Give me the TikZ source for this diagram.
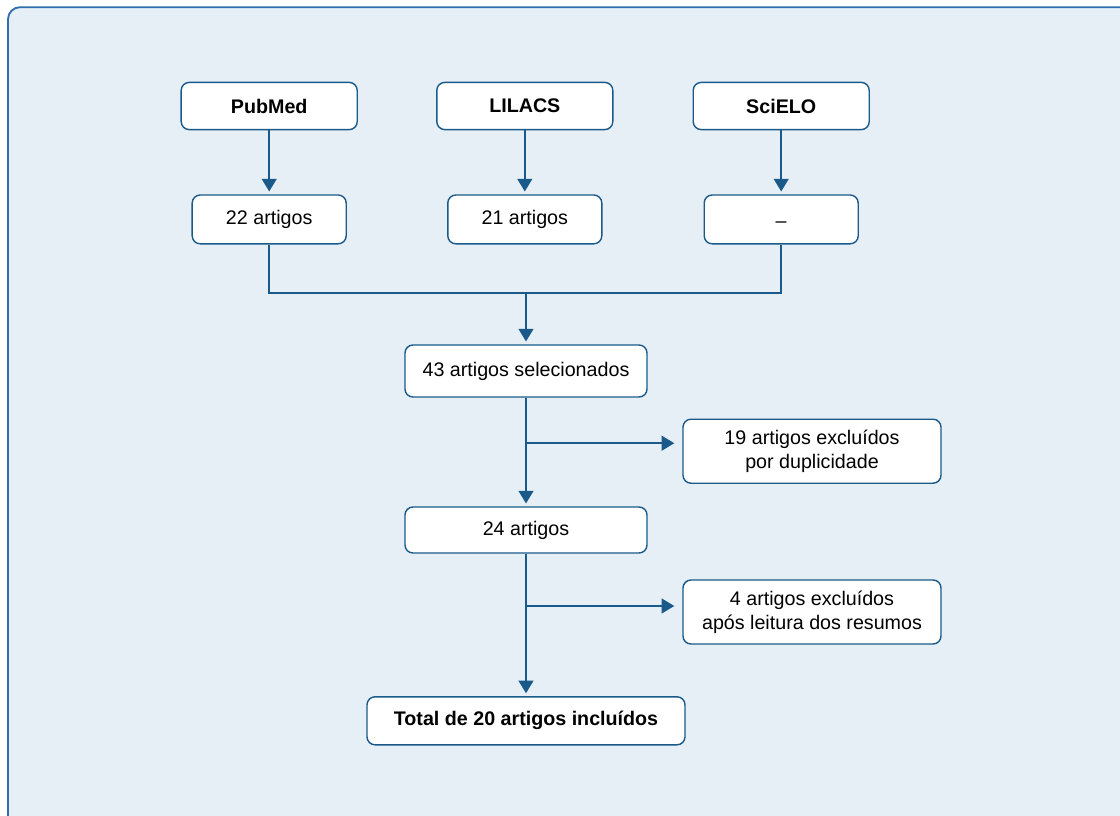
\documentclass[tikz,border=0pt]{standalone}
\usepackage{fontspec}
\setmainfont{Liberation Sans}
\usepackage{xcolor}
\usepackage{tikz}
\usetikzlibrary{shapes, arrows.meta, positioning}

\definecolor{bgblue}{HTML}{E6EEF6}
\definecolor{framblue}{HTML}{2F6EAC}
\definecolor{lineblue}{HTML}{1A5A8A}

\begin{document}
\begin{tikzpicture}[
      font=\fontsize{14}{17}\selectfont,
      box/.style={draw=lineblue, line width=1pt, rounded corners=0.2cm, fill=white, align=center, inner sep=2pt},
      db/.style={box, minimum width=4.4cm, minimum height=1.18cm, font=\fontsize{14}{17}\selectfont\bfseries},
      cnt/.style={box, minimum width=3.85cm, minimum height=1.22cm},
      stepbox/.style={box, minimum width=6.05cm},
      excl/.style={box, minimum width=6.45cm, minimum height=1.6cm},
      ln/.style={draw=lineblue, line width=1.4pt},
      arr/.style={ln, -{Triangle[width=10.5pt,length=9pt]}, shorten >=2pt},
    ]
    \clip (0,0) rectangle (28,-20.375);
    % background panel
    \fill[white] (0,0) rectangle (28,-20.375);
    \draw[draw=framblue, fill=bgblue, line width=1.3pt, rounded corners=0.3cm] (0.2,-0.18) rectangle (29,-21.5);

    % databases
    \node[db] (pubmed) at (6.73,-2.65) {PubMed};
    \node[db] (lilacs) at (13.12,-2.65) {LILACS};
    \node[db] (scielo) at (19.53,-2.65) {SciELO};

    \node[cnt, below=1.6cm of pubmed] (npub) {22 artigos};
    \node[cnt, below=1.6cm of lilacs] (nlil) {21 artigos};
    \node[cnt, below=1.6cm of scielo] (nsci) {\raisebox{-6pt}[0pt][0pt]{--}};

    \draw[arr] (pubmed) -- (npub);
    \draw[arr] (lilacs) -- (nlil);
    \draw[arr] (scielo) -- (nsci);

    % selection steps
    \node[stepbox, minimum height=1.3cm] (sel) at (13.15,-9.275) {43 artigos selecionados};
    \node[stepbox, minimum height=1.15cm] (rest) at (13.15,-13.25) {24 artigos};
    \node[box, minimum width=7.95cm, minimum height=1.2cm, font=\fontsize{14}{17}\selectfont\bfseries] (total) at (13.15,-18.02) {Total de 20 artigos incluídos};

    \node[excl] (dup) at (20.3,-11.28) {19 artigos excluídos\\por duplicidade};
    \node[excl] (abs) at (20.3,-15.3) {4 artigos excluídos\\após leitura dos resumos};

    \coordinate (merge) at (13.15,-7.33);
    \draw[ln] (npub.south) |- (merge) -| (nsci.south);
    \draw[arr] (merge) -- (sel);

    \coordinate (b1) at (13.15,-11.08);
    \coordinate (b2) at (13.15,-15.15);
    \draw[arr] (sel) -- (rest);
    \draw[arr] (rest) -- (total);
    \draw[arr, shorten >=0.2cm] (b1) -- (b1 -| dup.west);
    \draw[arr, shorten >=0.2cm] (b2) -- (b2 -| abs.west);
  \end{tikzpicture}
\end{document}
